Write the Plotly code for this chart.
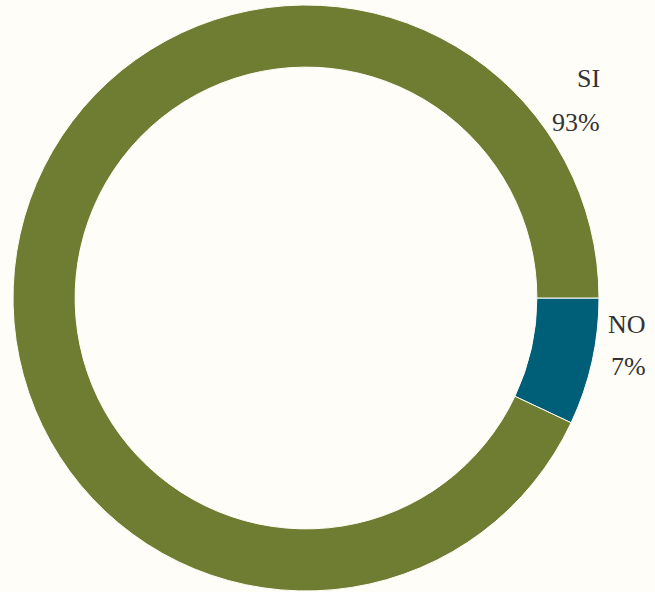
import plotly.graph_objects as go

labels = ["NO", "SI"]
values = [7, 93]
colors = ["#005f78", "#6f7d32"]
pct_labels = ["7%", "93%"]

W, H = 655, 592
bg = "#fffdf7"
cx, cy, r = 306, 298, 293

fig = go.Figure(go.Pie(
    labels=labels,
    values=values,
    sort=False,
    direction="clockwise",
    rotation=90,
    hole=0.788,
    marker=dict(colors=colors, line=dict(color=bg, width=1)),
    textinfo="none",
    hoverinfo="label+percent",
    showlegend=False,
    domain=dict(x=[(cx - r) / W, (cx + r) / W], y=[(H - cy - r) / H, (H - cy + r) / H]),
))

font = dict(family="Liberation Serif, serif", size=26, color="#333333")
# label positions (right edge x px, center y px of label, center y px of percent)
ann_pos = {"SI": (602, 78, 122), "NO": (648, 324, 366)}
annotations = []
for lab, pct in zip(labels, pct_labels):
    x, y1, y2 = ann_pos[lab]
    annotations.append(dict(text=lab, x=x / W, y=1 - y1 / H, xref="paper", yref="paper",
                            xanchor="right", yanchor="middle", showarrow=False, font=font))
    annotations.append(dict(text=pct, x=x / W, y=1 - y2 / H, xref="paper", yref="paper",
                            xanchor="right", yanchor="middle", showarrow=False, font=font))

fig.update_layout(
    width=W, height=H,
    margin=dict(l=0, r=0, t=0, b=0),
    paper_bgcolor=bg, plot_bgcolor=bg,
    annotations=annotations,
)
fig.write_html(
    "out.html",
    config={"displayModeBar": False},
    post_script="document.body.style.margin='0';document.body.style.overflow='hidden';"
                "document.documentElement.style.background='" + bg + "';",
)
